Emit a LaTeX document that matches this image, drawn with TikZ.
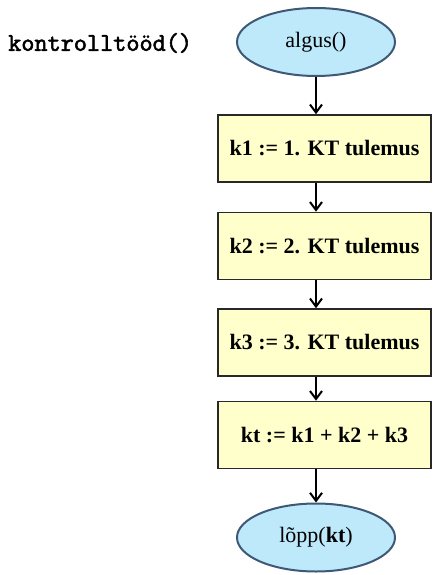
\documentclass[tikz,border=0pt]{standalone}
\usepackage{fontspec}
\setmainfont{Liberation Serif}
\newfontfamily\codefont{Latin Modern Mono}[AutoFakeBold=2.2]
\usetikzlibrary{shapes.geometric,arrows.meta}
\definecolor{termfill}{RGB}{190,233,251}
\definecolor{termline}{RGB}{62,88,118}
\definecolor{procfill}{RGB}{255,255,204}
\definecolor{procline}{RGB}{40,40,40}
\tikzset{
  terminal/.style={ellipse, draw=termline, fill=termfill, line width=2pt,
    minimum width=158pt, minimum height=68pt, inner sep=0pt,
    font=\fontsize{22}{24}\selectfont},
  process/.style={rectangle, draw=procline, fill=procfill, line width=1.6pt,
    minimum width=213pt, minimum height=67pt, inner sep=0pt,
    font=\fontsize{22}{24}\selectfont\bfseries},
  flow/.style={line width=2pt, -{Straight Barb[length=8pt,width=12pt]}},
  title/.style={font=\fontsize{25.5}{27}\selectfont\codefont\bfseries, anchor=west, inner sep=0pt}
}
\begin{document}
\begin{tikzpicture}[x=1pt,y=-1pt]
  \useasboundingbox (0,0) rectangle (432,575);
  \node[title] (name) at (8,43) {kontrolltööd()};
  \node[terminal] (start) at (316,42) {algus()};
  \node[process] (k1) at (324.5,148.5) {k1 := 1. KT tulemus};
  \node[process] (k2) at (324.5,246) {k2 := 2. KT tulemus};
  \node[process] (k3) at (324.5,342.5) {k3 := 3. KT tulemus};
  \node[process] (kt) at (324.5,435) {kt := k1 + k2 + k3};
  \node[terminal] (stop) at (316,537.5) {lõpp(\textbf{kt})};
  \draw[flow] (start) -- (start |- k1.north);
  \draw[flow] (k1.south -| start) -- (k2.north -| start);
  \draw[flow] (k2.south -| start) -- (k3.north -| start);
  \draw[flow] (k3.south -| start) -- (kt.north -| start);
  \draw[flow] (kt.south -| stop) -- (stop);
\end{tikzpicture}
\end{document}
